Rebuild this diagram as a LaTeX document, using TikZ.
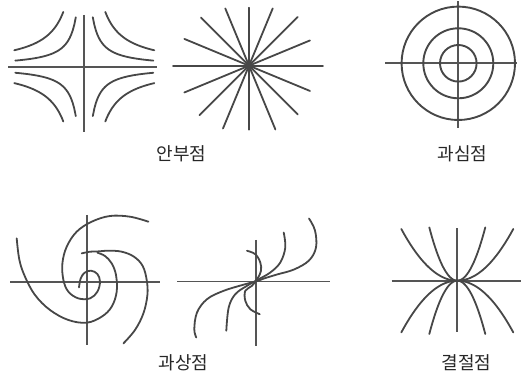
\documentclass[tikz,border=0pt]{standalone}
\usepackage{fontspec}
\newfontfamily\krfont{Noto Sans CJK KR}
\usepackage{tikz}
\usetikzlibrary{positioning}
\definecolor{inkgray}{HTML}{474747}
\definecolor{axisgray}{HTML}{555555}
\tikzset{
  axisline/.style={draw=axisgray, line width=1.7pt},
  trajline/.style={draw=inkgray, line width=1.8pt, line cap=round, line join=round},
  ringline/.style={draw=#1, line width=1.9pt},
  ringline/.default=inkgray,
  labelnode/.style={font=\krfont\fontsize{18}{20}\selectfont, text=black!85, inner sep=0pt},
}

\begin{document}
\begin{tikzpicture}[x=1pt, y=1pt]
\useasboundingbox (0,0) rectangle (523,377);

% centres of the six portraits
\coordinate (saddle) at (84.3,310.3);
\coordinate (star)   at (249,311.3);
\coordinate (centre) at (458.3,313.7);
\coordinate (spiral) at (86.7,95.3);
\coordinate (improp) at (256,95.5);
\coordinate (node)   at (457.3,96.3);

% Saddle
\begin{scope}[shift={(saddle)}]
  \draw[axisline] (-76.3,0) -- (72.7,0);
  \draw[axisline] (0,51.7) -- (0,-65.3);
  \foreach \sx/\sy in {1/1,-1/1,1/-1,-1/-1}{
    \draw[trajline, xscale=\sx, yscale=\sy] plot[domain=8.5:69, samples=40] (\x,{420/\x});
    \draw[trajline, xscale=\sx, yscale=\sy] plot[domain=21:70, samples=40] (\x,{1150/\x});
  }
\end{scope}

% Star
\begin{scope}[shift={(star)}]
  \foreach \a/\r in {0/74, 22.5/66, 45/69, 67.5/62, 90/58, 112.5/62, 135/68, 157.5/70,
                     180/76, 202.5/70, 225/70, 247.5/68, 270/64, 292.5/69, 315/69, 337.5/66}
    \draw[trajline] (0,0) -- (\a:\r);
\end{scope}

% Centre
\begin{scope}[shift={(centre)}]
  \draw[axisline] (-73.3,0) -- (58.3,0);
  \draw[axisline] (0,62) -- (0,-65);
  \foreach \r in {18.3,35,56.7}
    \draw[ringline] (0,0) circle[radius=\r];
\end{scope}

% Spiral
\begin{scope}[shift={(spiral)}]
  \draw[axisline] (-76.7,0) -- (73.3,0);
  \draw[axisline] (0,66.7) -- (0,-63.3);
  \draw[trajline] plot[smooth, tension=0.6] coordinates {
    (61.7,60) (43.3,65) (23.3,65.7) (5,60) (-10,50) (-20,35) (-24.3,18.3)
    (-23.3,1.7) (-18.3,-10) (-8.3,-16.7) (3.3,-16.7) (10.7,-10) (13.3,0)
    (10.7,7.7) (4.3,11) (-2,9) (-6,3.3) (-7.7,-5.7)};
  \draw[trajline] plot[smooth, tension=0.6] coordinates {
    (-70,43.3) (-67.3,21.7) (-61.7,5) (-51.7,-13.3) (-36.7,-28.3) (-18.3,-38.3)
    (0,-41) (15,-35) (25,-25) (30,-10) (29.3,6.7) (25,18.3) (18.3,25.7) (10.7,29)};
  \draw[trajline] plot[smooth, tension=0.6] coordinates {
    (36.7,-61.7) (48.3,-48.3) (56.7,-31.7) (60.7,-13.3) (60,1.7) (56,15.7)
    (47.3,25) (35,30) (21.7,31) (11.7,30.3) (3.3,30) (-5,28.3)};
\end{scope}

% Improper node
\begin{scope}[shift={(improp)}]
  \draw[axisline] (-79,0) -- (74,0);
  \draw[axisline] (0,41.5) -- (0,-64.5);
  \draw[trajline] plot[smooth, tension=0.6] coordinates {
    (53,63) (59,51) (60,34) (53,21) (38,12) (21,7) (8,3) (0,0) (-10.7,-2.7)
    (-32.3,-9.3) (-49,-17.7) (-59,-31) (-61.7,-47.7) (-59.7,-56)};
  \draw[trajline] plot[smooth, tension=0.6] coordinates {
    (27.7,49) (29.3,34) (24.3,19) (14.3,9) (2.7,2.3) (-9,-4.3) (-20.7,-12.7)
    (-27.3,-26) (-29.7,-49.3)};
  \draw[trajline] plot[smooth, tension=0.6] coordinates {
    (-9,30.7) (-0.7,27.3) (4.3,19) (5,10.7) (1.7,3.3) (-4,-4.3) (-10.7,-9.3)
    (-10.7,-19.3) (-5.7,-27.7) (3.7,-32.7)};
\end{scope}

% Node
\begin{scope}[shift={(node)}]
  \draw[axisline] (-65.6,0) -- (64,0);
  \draw[axisline] (0,52.4) -- (0,-51);
  \foreach \k/\w in {0.0165/56, 0.068/28}{
    \draw[trajline] plot[domain=-\w:\w, samples=41] (\x,{\k*(\x)*(\x)});
    \draw[trajline] plot[domain=-\w:\w, samples=41] (\x,{-\k*(\x)*(\x)});
  }
\end{scope}

% labels
\node[labelnode] (lblsaddle) at (181.5,223.5) {안부점};
\node[labelnode] (lblcentre) at (462.5,223) {과심점};
\node[labelnode] (lblspiral) at (183.5,14) {과상점};
\node[labelnode] (lblnode)   at (466.5,14.5) {결절점};

\end{tikzpicture}
\end{document}
